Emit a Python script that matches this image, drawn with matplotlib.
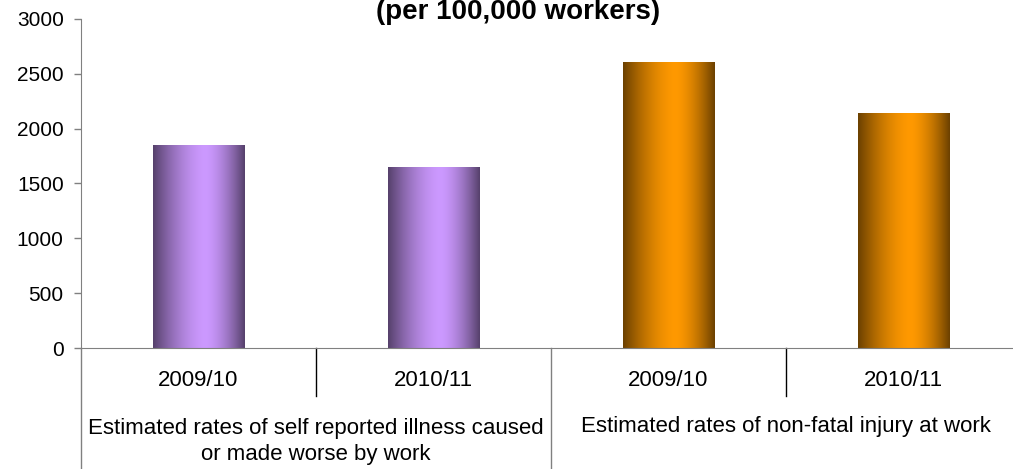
import numpy as np
import matplotlib.pyplot as plt
from matplotlib.colors import to_rgb

plt.rcParams['font.family'] = ['Liberation Sans', 'DejaVu Sans']

# Rates per 100,000 workers
groups = ['Estimated rates of self reported illness caused\nor made worse by work',
          'Estimated rates of non-fatal injury at work']
years = ['2009/10', '2010/11', '2009/10', '2010/11']
rates = [1850, 1650, 2600, 2140]
bar_colors = ['#CC99FF', '#CC99FF', '#FF9900', '#FF9900']


def shaded(color, n=200, dark=0.42, peak=0.57):
    """Horizontal cylinder-style gradient: dark edges, bright near the middle."""
    c = np.array(to_rgb(color))
    t = np.linspace(0, 1, n)
    d = np.where(t < peak, (peak - t) / peak, (t - peak) / (1 - peak))
    w = 1 - d ** 1.6
    f = dark + (1 - dark) * w
    return (f[:, None] * c[None, :])[None, :, :]


fig = plt.figure(figsize=(10.13, 4.69), dpi=100)
W, H = 1013, 469
ax = fig.add_axes([81 / W, (H - 348) / H, (1021 - 81) / W, 329 / H])

x = np.arange(len(rates)) + 0.5
bars = ax.bar(x, rates, width=0.39, color='none', edgecolor='none')
for b, col in zip(bars, bar_colors):
    ax.imshow(shaded(col), extent=[b.get_x(), b.get_x() + b.get_width(), 0, b.get_height()],
              aspect='auto', zorder=2, interpolation='bilinear')

ax.set_xlim(0, 4)
ax.set_ylim(0, 3000)
ax.set_yticks(range(0, 3001, 500))
ax.tick_params(axis='y', labelsize=15, length=5, width=1, color='#808080', pad=7.5)
ax.set_xticks([])
for s in ['top', 'right']:
    ax.spines[s].set_visible(False)
for s in ['left', 'bottom']:
    ax.spines[s].set_color('#808080')

# category axis below the plot: year labels, then group labels
xt = ax.get_xaxis_transform()
for xi, yr in zip(x, years):
    ax.text(xi, -0.098, yr, transform=xt, ha='center', va='center', fontsize=16)
ax.text(1, -0.285, groups[0], transform=xt, ha='center', va='center',
        fontsize=16, linespacing=1.32)
ax.text(3, -0.24, groups[1], transform=xt, ha='center', va='center', fontsize=16)
for xv in [1, 3]:
    ax.plot([xv, xv], [0, -0.146], transform=xt, color='black', lw=1, clip_on=False)
for xv in [0, 2, 4]:
    ax.plot([xv, xv], [0, -0.45], transform=xt, color='#808080', lw=1, clip_on=False)

fig.text(518 / W, 1 - 19 / H, '(per 100,000 workers)', ha='center', va='baseline',
         fontsize=20, fontweight='bold')

fig.savefig('out.png', dpi=100)
